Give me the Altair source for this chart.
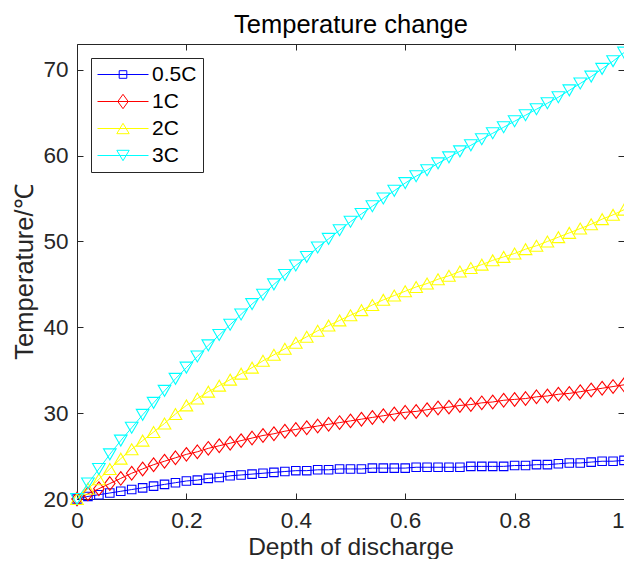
import altair as alt
import pandas as pd

# ---------------- data ----------------
depth = [0.00, 0.02, 0.04, 0.06, 0.08, 0.10, 0.12, 0.14, 0.16, 0.18,
         0.20, 0.22, 0.24, 0.26, 0.28, 0.30, 0.32, 0.34, 0.36, 0.38,
         0.40, 0.42, 0.44, 0.46, 0.48, 0.50, 0.52, 0.54, 0.56, 0.58,
         0.60, 0.62, 0.64, 0.66, 0.68, 0.70, 0.72, 0.74, 0.76, 0.78,
         0.80, 0.82, 0.84, 0.86, 0.88, 0.90, 0.92, 0.94, 0.96, 0.98, 1.00]

t_05c = [20.0, 20.3, 20.5, 20.7, 20.9, 21.1, 21.3, 21.5, 21.7, 21.9,
         22.1, 22.2, 22.4, 22.5, 22.7, 22.8, 22.9, 23.0, 23.1, 23.2,
         23.3, 23.3, 23.4, 23.4, 23.5, 23.5, 23.5, 23.6, 23.6, 23.6,
         23.6, 23.7, 23.7, 23.7, 23.7, 23.7, 23.8, 23.8, 23.8, 23.8,
         23.9, 23.9, 24.0, 24.0, 24.1, 24.2, 24.2, 24.3, 24.4, 24.4, 24.5]

t_1c = [20.0, 20.6, 21.2, 21.8, 22.4, 23.0, 23.5, 24.0, 24.4, 24.8,
        25.2, 25.5, 25.9, 26.2, 26.5, 26.8, 27.1, 27.4, 27.6, 27.9,
        28.1, 28.3, 28.5, 28.7, 28.9, 29.1, 29.3, 29.5, 29.7, 29.9,
        30.1, 30.2, 30.4, 30.6, 30.7, 30.9, 31.0, 31.2, 31.3, 31.5,
        31.6, 31.7, 31.9, 32.0, 32.2, 32.3, 32.5, 32.7, 32.9, 33.1, 33.3]

t_2c = [20.0, 21.2, 22.3, 23.5, 24.7, 25.8, 26.8, 27.8, 28.8, 29.9,
        30.9, 31.7, 32.5, 33.2, 33.9, 34.6, 35.3, 36.1, 36.8, 37.5,
        38.2, 38.9, 39.6, 40.2, 40.8, 41.4, 42.0, 42.6, 43.2, 43.7,
        44.2, 44.7, 45.1, 45.6, 46.0, 46.5, 46.9, 47.3, 47.8, 48.2,
        48.6, 49.1, 49.5, 50.0, 50.5, 51.0, 51.5, 52.0, 52.6, 53.1, 53.7]

t_3c = [20.0, 21.8, 23.5, 25.2, 26.8, 28.3, 29.8, 31.2, 32.6, 34.0,
        35.3, 36.6, 37.9, 39.1, 40.3, 41.5, 42.7, 43.8, 45.0, 46.1,
        47.2, 48.2, 49.3, 50.3, 51.3, 52.3, 53.2, 54.1, 55.0, 55.9,
        56.8, 57.6, 58.3, 59.1, 59.8, 60.5, 61.2, 61.9, 62.6, 63.3,
        64.0, 64.7, 65.4, 66.1, 66.8, 67.6, 68.4, 69.2, 70.1, 71.0, 72.0]

series_names = ["0.5C", "1C", "2C", "3C"]
series_colors = ["#0000FF", "#FF0000", "#FFFF00", "#00FFFF"]
x_ticks = [0, 0.2, 0.4, 0.6, 0.8, 1]
y_ticks = [20, 30, 40, 50, 60, 70]

# ---------------- styling ----------------
W, H = 547, 455
AX = "#262626"
FONT = "Liberation Sans, Arial, Helvetica, sans-serif"

plot_shapes = ["square", "M0,-1.3L1,0L0,1.3L-1,0Z", "triangle-up", "triangle-down"]
plot_sizes = [72, 110, 160, 160]
legend_paths = [
    "M-1,0H4.1M1.17,-0.38H1.93V0.38H1.17Z",
    "M-1,0H4.1M1.55,-0.72L2.07,0L1.55,0.72L1.03,0Z",
    "M-1,0H4.1M1.55,-0.52L2.17,0.52L0.93,0.52Z",
    "M-1,0H4.1M0.93,-0.52L2.17,-0.52L1.55,0.52Z",
]

all_vals = [t_05c, t_1c, t_2c, t_3c]
rows = []
for name, vals in zip(series_names, all_vals):
    for d, t in zip(depth, vals):
        rows.append({"depth": d, "temp": t, "series": name})
df = pd.DataFrame(rows)

xs = alt.Scale(domain=[0, 1], nice=False, zero=False)
ys = alt.Scale(domain=[20, 73], nice=False, zero=False)

main_x_axis = alt.Axis(
    orient="bottom", values=x_ticks, format="~g", ticks=False, domain=False, grid=False,
    labelFontSize=22.5, labelColor=AX, labelPadding=28, labelBaseline="alphabetic",
    labelAlign={"expr": "datum.value == 1 ? 'right' : 'center'"},
    labelFlush=False, labelOverlap=False, labelFont=FONT,
    title="Depth of discharge", titleFontSize=24.5, titleFontWeight="normal",
    titleColor=AX, titleFont=FONT, titleBaseline="alphabetic", titleX=W / 2, titleY=55,
)
main_y_axis = alt.Axis(
    orient="left", values=y_ticks, format="d", ticks=False, domain=False, grid=False,
    labelFontSize=22.5, labelColor=AX, labelPadding=9, labelBaseline="middle",
    labelFlush=False, labelOverlap=False, labelFont=FONT,
    title="Temperature/℃", titleFontSize=25.5, titleFontWeight="normal",
    titleColor=AX, titleFont=FONT, titleBaseline="alphabetic", titleX=-45, titleY=H / 2,
    titleAngle=270,
)
title_axis = alt.Axis(
    orient="top", labels=False, ticks=False, domain=False, grid=False,
    title="Temperature change", titleFontSize=25.5, titleFontWeight="normal",
    titleColor="black", titleFont=FONT, titleBaseline="alphabetic", titleX=W / 2, titleY=-12,
)


def tick_axis(orient, offset, values):
    return alt.Axis(orient=orient, offset=offset, values=values, labels=False, domain=False,
                    grid=False, ticks=True, tickSize=6, tickColor=AX, tickWidth=1, title=None)


axis_sets = [
    (main_x_axis, main_y_axis),
    (tick_axis("top", -H, x_ticks), tick_axis("right", -W, y_ticks)),
    (tick_axis("bottom", -H, x_ticks), tick_axis("left", -W, y_ticks)),
    (title_axis, None),
]

layers = []
for i, name in enumerate(series_names):
    base = alt.Chart(df).transform_filter(alt.datum.series == name)
    ax_x, ax_y = axis_sets[i]
    line = base.mark_line(color=series_colors[i], strokeWidth=1).encode(
        x=alt.X("depth:Q", scale=xs, axis=ax_x),
        y=alt.Y("temp:Q", scale=ys, axis=ax_y),
    )
    pts = base.mark_point(shape=plot_shapes[i], size=plot_sizes[i], filled=False,
                          color=series_colors[i], strokeWidth=1.1, opacity=1).encode(
        x=alt.X("depth:Q", scale=xs, axis=None),
        y=alt.Y("temp:Q", scale=ys, axis=None),
    )
    layers += [line, pts]

legend_df = pd.DataFrame({"series": series_names})
leg = alt.Legend(
    title=None, orient="top-left", offset=14, padding=6, strokeColor=AX, fillColor="white",
    labelFontSize=21, labelFont=FONT, labelColor="black", symbolSize=400,
    symbolStrokeWidth=1, symbolOpacity=1, rowPadding=5, labelOffset=34,
)
legend_layer = alt.Chart(legend_df).transform_filter("false").mark_point(
    filled=False, size=400, strokeWidth=1, opacity=1).encode(
    x=alt.value(0), y=alt.value(0),
    color=alt.Color("series:N", scale=alt.Scale(domain=series_names, range=series_colors), legend=leg),
    shape=alt.Shape("series:N", scale=alt.Scale(domain=series_names, range=legend_paths), legend=leg),
)
layers.append(legend_layer)

chart = alt.layer(*layers).resolve_axis(x="independent", y="independent").properties(
    width=W, height=H,
    autosize=alt.AutoSizeParams(type="none"),
    padding={"left": 69, "top": 36, "right": 0, "bottom": 60},
).configure(font=FONT).configure_view(stroke=AX, strokeWidth=1)

chart.save("out.html", embed_options={"renderer": "svg", "actions": False})
